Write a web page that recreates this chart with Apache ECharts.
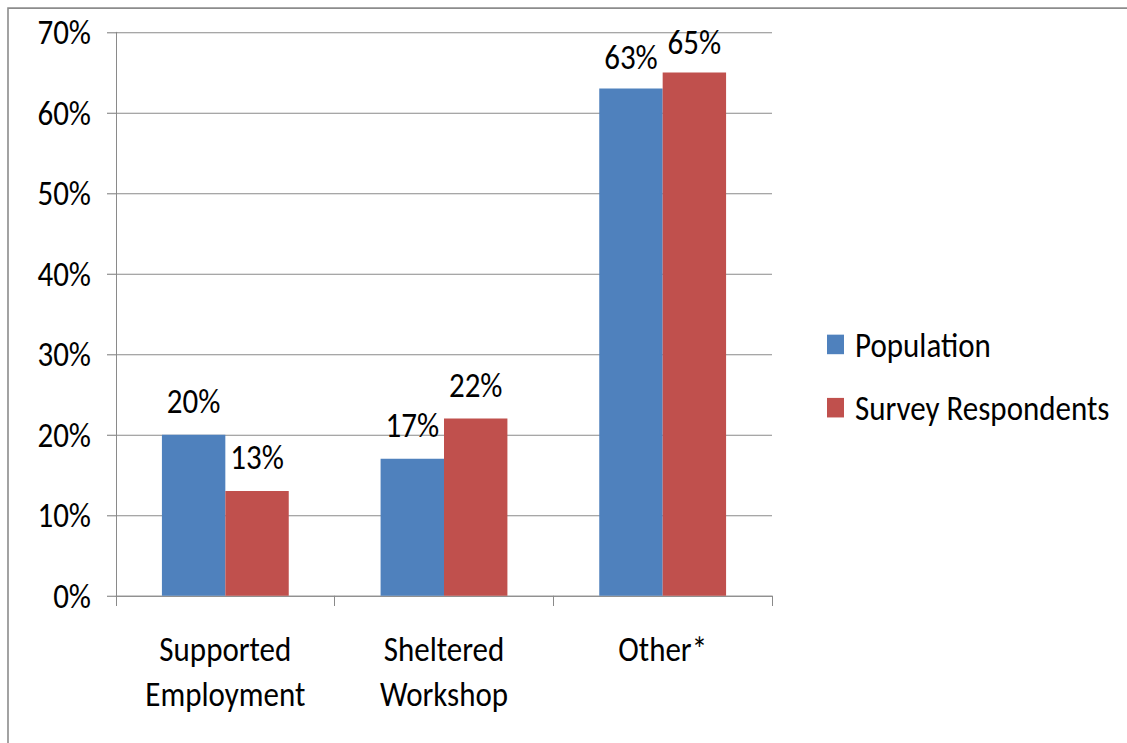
<!DOCTYPE html>
<html>
<head>
<meta charset="utf-8">
<script src="https://cdn.jsdelivr.net/npm/echarts@6/dist/echarts.min.js"></script>
<style>
  html, body { margin: 0; padding: 0; background: #fff; overflow: hidden; }
  #wrap { width: 1127px; height: 743px; overflow: hidden; }
  /* the chart is laid out on a shorter canvas and stretched vertically */
  #chart { width: 1127px; height: 646px; transform: scaleY(1.15); transform-origin: 0 0; }
</style>
</head>
<body>
<div id="wrap"><div id="chart"></div></div>
<script>
// Employment setting shares
const categories = ['Supported\nEmployment', 'Sheltered\nWorkshop', 'Other*'];
const population = [20, 17, 63];
const surveyRespondents = [13, 22, 65];
const seriesNames = ['Population', 'Survey Respondents'];
const yTicks = { min: 0, max: 70, interval: 10 };

const FONT = 'Carlito, Calibri, "Liberation Sans", sans-serif';
const GRID_COLOR = '#8a8a8a';

const chart = echarts.init(document.getElementById('chart'), null, { renderer: 'svg' });

function labelled(values, distances) {
  return values.map((v, i) => ({ value: v, label: { distance: distances[i] } }));
}

chart.setOption({
  animation: false,
  textStyle: { fontFamily: FONT, color: '#000' },
  graphic: [{
    type: 'rect',
    shape: { x: 8, y: 7, width: 1400, height: 900 },
    style: { fill: 'none', stroke: '#8c8c8c', lineWidth: 1.6 },
    silent: true
  }],
  grid: { left: 116, right: 355, top: 28, bottom: 128, containLabel: false },
  legend: {
    orient: 'vertical',
    left: 827,
    top: 284,
    padding: 0,
    itemWidth: 17,
    itemHeight: 17,
    itemGap: 24,
    icon: 'rect',
    data: seriesNames,
    textStyle: { fontFamily: FONT, fontSize: 31, lineHeight: 31, color: '#000', padding: [0, 0, 0, 6] }
  },
  xAxis: {
    type: 'category',
    data: categories,
    axisLine: { lineStyle: { color: GRID_COLOR, width: 1 } },
    axisTick: { show: true, length: 9, alignWithLabel: false, lineStyle: { color: GRID_COLOR } },
    axisLabel: { fontFamily: FONT, fontSize: 31, lineHeight: 39, color: '#000', margin: 27, interval: 0 }
  },
  yAxis: {
    type: 'value',
    min: yTicks.min,
    max: yTicks.max,
    interval: yTicks.interval,
    axisLine: { show: true, lineStyle: { color: GRID_COLOR, width: 1 } },
    axisTick: { show: true, length: 9, lineStyle: { color: GRID_COLOR } },
    splitLine: { show: true, lineStyle: { color: GRID_COLOR, width: 1 } },
    axisLabel: { fontFamily: FONT, fontSize: 31, color: '#000', margin: 25, formatter: '{value}%' }
  },
  series: [
    {
      name: seriesNames[0],
      type: 'bar',
      barGap: '0%',
      barCategoryGap: '42%',
      itemStyle: { color: '#4F81BD' },
      label: { show: true, position: 'top', fontFamily: FONT, fontSize: 31, color: '#000', formatter: '{c}%' },
      data: labelled(population, [14, 14, 12])
    },
    {
      name: seriesNames[1],
      type: 'bar',
      itemStyle: { color: '#C0504D' },
      label: { show: true, position: 'top', fontFamily: FONT, fontSize: 31, color: '#000', formatter: '{c}%' },
      data: labelled(surveyRespondents, [14, 14, 11])
    }
  ]
});
</script>
</body>
</html>
